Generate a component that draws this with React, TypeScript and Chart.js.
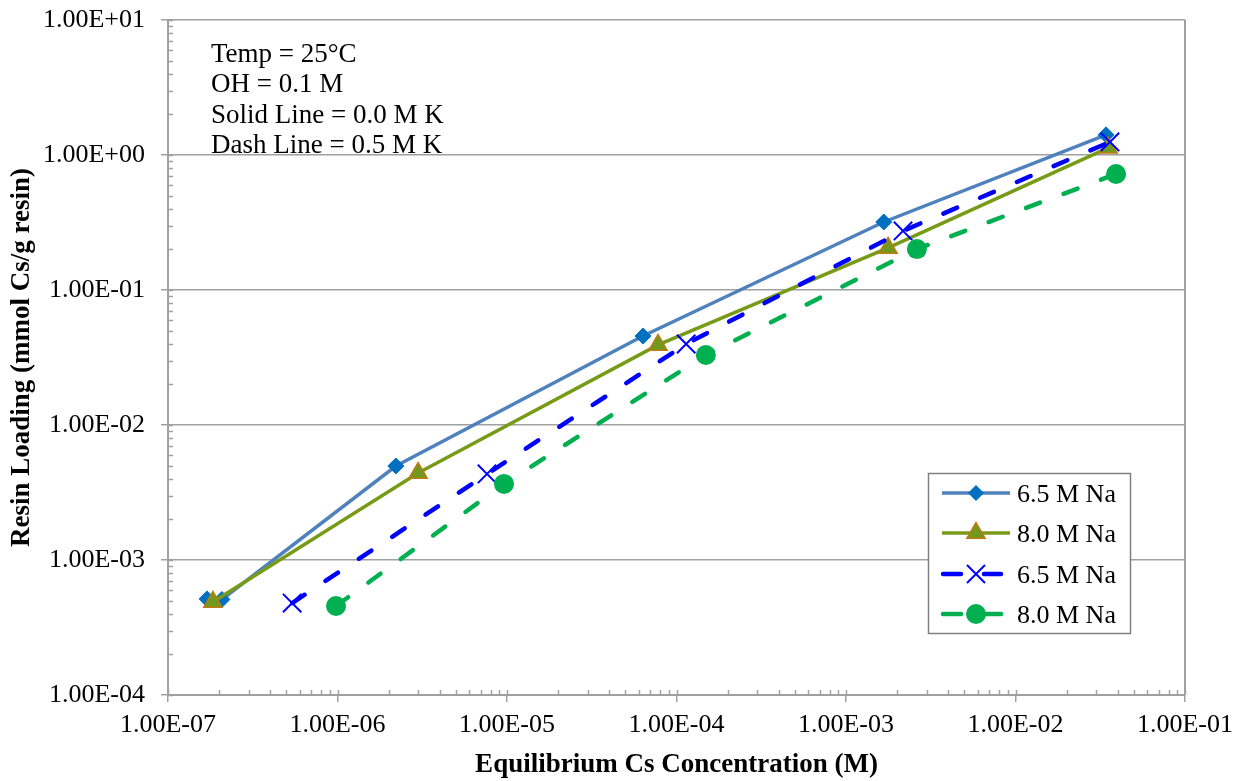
import React, { useEffect, useRef } from "react";
import { Chart, registerables } from "chart.js";
Chart.register(...registerables);

const FONT = "'Liberation Serif', 'Times New Roman', serif";

const seriesNames = ["6.5 M Na", "8.0 M Na", "6.5 M Na", "8.0 M Na"];
const s1x = [1.7e-7, 2.08e-7, 2.21e-6, 6.34e-5, 1.67e-3, 3.42e-2];
const s1y = [5.15e-4, 5.1e-4, 4.97e-3, 4.56e-2, 0.319, 1.41];
const s2x = [1.84e-7, 2.99e-6, 7.78e-5, 1.77e-3, 3.52e-2];
const s2y = [4.89e-4, 4.41e-3, 3.92e-2, 0.205, 1.13];
const s3x = [5.4e-7, 7.62e-6, 1.14e-4, 2.17e-3, 3.61e-2];
const s3y = [4.8e-4, 4.34e-3, 3.98e-2, 0.274, 1.25];
const s4x = [9.8e-7, 9.6e-6, 1.49e-4, 2.62e-3, 3.92e-2];
const s4y = [4.56e-4, 3.66e-3, 3.3e-2, 0.201, 0.723];

const xTicks = [1e-7, 1e-6, 1e-5, 1e-4, 1e-3, 1e-2, 1e-1];
const xTickLabels = ["1.00E-07", "1.00E-06", "1.00E-05", "1.00E-04", "1.00E-03", "1.00E-02", "1.00E-01"];
const yTicks = [1e-4, 1e-3, 1e-2, 1e-1, 1e0, 1e1];
const yTickLabels = ["1.00E-04", "1.00E-03", "1.00E-02", "1.00E-01", "1.00E+00", "1.00E+01"];

const notes = ["Temp = 25°C", "OH = 0.1 M", "Solid Line = 0.0 M K", "Dash Line = 0.5 M K"];
const xTitle = "Equilibrium Cs Concentration (M)";
const yTitle = "Resin Loading (mmol Cs/g resin)";

const AXIS = "#A0A0A0";
const DASH = [15, 25];

const pts = (xs: number[], ys: number[]) => xs.map((x, i) => ({ x, y: ys[i] }));

const findLabel = (vals: number[], labels: string[], v: number) => {
  const i = vals.findIndex((t) => Math.abs(Math.log10(t) - Math.log10(v)) < 1e-6);
  return i >= 0 ? labels[i] : "";
};

function drawMarker(ctx: CanvasRenderingContext2D, kind: number, x: number, y: number) {
  ctx.save();
  if (kind === 0) {
    const r = 8;
    ctx.fillStyle = "#0070C0";
    ctx.beginPath();
    ctx.moveTo(x, y - r);
    ctx.lineTo(x + r, y);
    ctx.lineTo(x, y + r);
    ctx.lineTo(x - r, y);
    ctx.closePath();
    ctx.fill();
  } else if (kind === 1) {
    const r = 10.5;
    ctx.fillStyle = "#6F9A1E";
    ctx.strokeStyle = "#C07A10";
    ctx.lineWidth = 1.5;
    ctx.beginPath();
    ctx.moveTo(x, y - r);
    ctx.lineTo(x + r * 0.866, y + r * 0.5);
    ctx.lineTo(x - r * 0.866, y + r * 0.5);
    ctx.closePath();
    ctx.fill();
    ctx.stroke();
  } else if (kind === 2) {
    const d = 9;
    ctx.strokeStyle = "#0000FF";
    ctx.lineWidth = 2;
    ctx.beginPath();
    ctx.moveTo(x - d, y - d);
    ctx.lineTo(x + d, y + d);
    ctx.moveTo(x + d, y - d);
    ctx.lineTo(x - d, y + d);
    ctx.stroke();
  } else {
    ctx.fillStyle = "#00B050";
    ctx.beginPath();
    ctx.arc(x, y, 10, 0, Math.PI * 2);
    ctx.fill();
  }
  ctx.restore();
}

const axisExtras = {
  id: "axisExtras",
  beforeDatasetsDraw(chart: any) {
    const { ctx, chartArea: a, scales } = chart;
    const xs = scales.x;
    const ys = scales.y;
    ctx.save();
    ctx.strokeStyle = AXIS;
    ctx.lineWidth = 1.5;
    ctx.beginPath();
    for (let e = -7; e <= -1; e++) {
      for (let k = 1; k <= 9; k++) {
        if (e === -1 && k > 1) break;
        const px = Math.round(xs.getPixelForValue(k * Math.pow(10, e))) + 0.5;
        ctx.moveTo(px, a.bottom);
        ctx.lineTo(px, a.bottom - 5);
      }
    }
    for (let e = -4; e <= 1; e++) {
      for (let k = 1; k <= 9; k++) {
        if (e === 1 && k > 1) break;
        const py = Math.round(ys.getPixelForValue(k * Math.pow(10, e))) + 0.5;
        ctx.moveTo(a.left, py);
        ctx.lineTo(a.left + 5, py);
      }
    }
    ctx.stroke();
    ctx.lineWidth = 2;
    ctx.beginPath();
    ctx.moveTo(a.right, a.top);
    ctx.lineTo(a.right, a.bottom);
    ctx.stroke();
    ctx.restore();
  },
  afterDraw(chart: any) {
    const { ctx } = chart;
    ctx.save();
    ctx.fillStyle = "#000";
    ctx.font = `27px ${FONT}`;
    ctx.textBaseline = "alphabetic";
    const base = [62, 92, 123, 153];
    notes.forEach((t, i) => ctx.fillText(t, 211, base[i]));

    // legend
    const bx = 928, by = 473, bw = 202, bh = 160;
    ctx.fillStyle = "#fff";
    ctx.fillRect(bx, by, bw, bh);
    ctx.strokeStyle = "#808080";
    ctx.lineWidth = 1.5;
    ctx.strokeRect(bx + 0.5, by + 0.5, bw, bh);
    const rows = [493, 533, 574, 614];
    const colors = ["#4F81BD", "#779B17", "#0000FF", "#00B050"];
    rows.forEach((ry, i) => {
      ctx.save();
      ctx.strokeStyle = colors[i];
      if (i < 2) {
        ctx.lineWidth = 3.5;
        ctx.beginPath();
        ctx.moveTo(942, ry);
        ctx.lineTo(1010, ry);
        ctx.stroke();
      } else {
        ctx.lineWidth = 4.5;
        ctx.lineCap = "round";
        ctx.beginPath();
        ctx.moveTo(943, ry);
        ctx.lineTo(961, ry);
        ctx.moveTo(984, ry);
        ctx.lineTo(1001, ry);
        ctx.stroke();
      }
      ctx.restore();
      drawMarker(ctx, i, 976, ry);
      ctx.fillStyle = "#000";
      ctx.font = `26px ${FONT}`;
      ctx.fillText(seriesNames[i], 1017, ry + 9);
    });
    ctx.restore();
  },
};

export default function App() {
  const ref = useRef<HTMLCanvasElement | null>(null);
  useEffect(() => {
    if (!ref.current) return;
    const common = { showLine: true, fill: false };
    const chart = new Chart(ref.current, {
      type: "scatter",
      data: {
        datasets: [
          {
            ...common,
            label: seriesNames[0],
            data: pts(s1x, s1y),
            borderColor: "#4F81BD",
            borderWidth: 3.5,
            pointStyle: "rectRot",
            pointRadius: 8,
            pointBackgroundColor: "#0070C0",
            pointBorderColor: "#0070C0",
            pointBorderWidth: 1,
            order: 3,
          },
          {
            ...common,
            label: seriesNames[1],
            data: pts(s2x, s2y),
            borderColor: "#779B17",
            borderWidth: 3.5,
            pointStyle: "triangle",
            pointRadius: 10.5,
            pointBackgroundColor: "#6F9A1E",
            pointBorderColor: "#C07A10",
            pointBorderWidth: 1.5,
            order: 2,
          },
          {
            ...common,
            label: seriesNames[2],
            data: pts(s3x, s3y),
            borderColor: "#0000FF",
            borderWidth: 4.5,
            borderDash: DASH,
            borderCapStyle: "round",
            pointStyle: "crossRot",
            pointRadius: 13,
            pointBackgroundColor: "#0000FF",
            pointBorderColor: "#0000FF",
            pointBorderWidth: 2,
            order: 1,
          },
          {
            ...common,
            label: seriesNames[3],
            data: pts(s4x, s4y),
            borderColor: "#00B050",
            borderWidth: 4.5,
            borderDash: DASH,
            borderCapStyle: "round",
            pointStyle: "circle",
            pointRadius: 10,
            pointBackgroundColor: "#00B050",
            pointBorderColor: "#00B050",
            pointBorderWidth: 0,
            order: 0,
          },
        ] as any,
      },
      options: {
        animation: false,
        responsive: false,
        devicePixelRatio: 1,
        layout: { padding: { top: 20, right: 56, left: 0, bottom: 0 } },
        plugins: { legend: { display: false }, tooltip: { enabled: false } },
        scales: {
          x: {
            type: "logarithmic",
            min: 1e-7,
            max: 1e-1,
            afterBuildTicks: (s: any) => {
              s.ticks = xTicks.map((v) => ({ value: v, major: true }));
            },
            afterFit: (s: any) => {
              s.height = 86;
              s.paddingLeft = 0;
              s.paddingRight = 0;
            },
            ticks: {
              callback: (v: any) => findLabel(xTicks, xTickLabels, Number(v)),
              font: { family: FONT, size: 26 },
              color: "#000",
              padding: 8,
              maxRotation: 0,
              autoSkip: false,
            },
            grid: { display: true, drawOnChartArea: false, drawTicks: true, tickLength: 7, color: AXIS, lineWidth: 1.5 },
            border: { display: true, color: AXIS, width: 2 },
            title: {
              display: true,
              text: xTitle,
              font: { family: FONT, size: 27, weight: "bold" },
              color: "#000",
              padding: { top: 0, bottom: 0 },
            },
          },
          y: {
            type: "logarithmic",
            min: 1e-4,
            max: 1e1,
            afterBuildTicks: (s: any) => {
              s.ticks = yTicks.map((v) => ({ value: v, major: true }));
            },
            afterFit: (s: any) => {
              s.width = 168;
              s.paddingTop = 0;
              s.paddingBottom = 0;
            },
            ticks: {
              callback: (v: any) => findLabel(yTicks, yTickLabels, Number(v)),
              font: { family: FONT, size: 26 },
              color: "#000",
              padding: 16,
              autoSkip: false,
            },
            grid: { display: true, drawTicks: true, tickLength: 7, color: AXIS, lineWidth: 1.5 },
            border: { display: true, color: AXIS, width: 2 },
            title: {
              display: true,
              text: yTitle,
              font: { family: FONT, size: 27, weight: "bold" },
              color: "#000",
              padding: { top: 6, bottom: 0 },
            },
          },
        },
      } as any,
      plugins: [axisExtras],
    });
    return () => chart.destroy();
  }, []);
  return (
    <div style={{ position: "fixed", left: 0, top: 0, width: 1241, height: 781, background: "#fff" }}>
      <canvas ref={ref} width={1241} height={781} style={{ width: 1241, height: 781, display: "block" }} />
    </div>
  );
}
